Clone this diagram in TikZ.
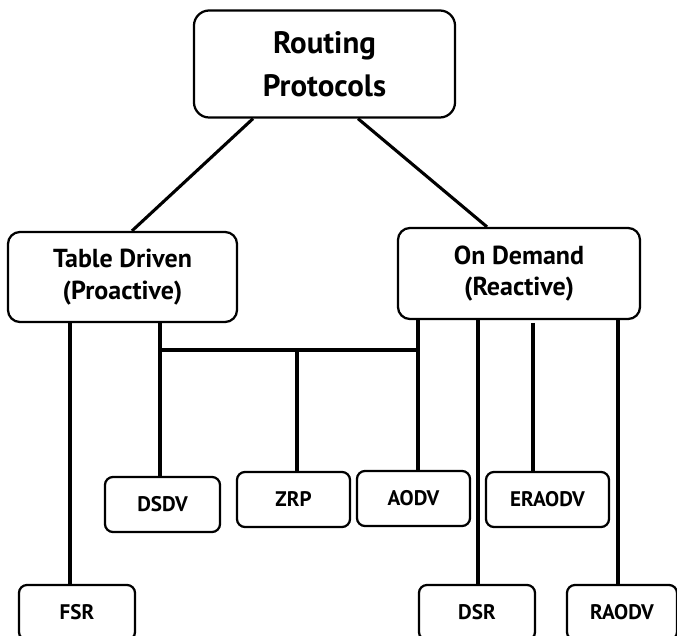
\documentclass[tikz,border=0pt]{standalone}
\usepackage{fontspec}
\setmainfont{PT Sans}
\usetikzlibrary{positioning, calc}

\begin{document}
\begin{tikzpicture}[x=0.025cm, y=-0.025cm,
  box/.style={draw, line width=1.6pt, rounded corners=0.2cm, inner sep=0pt,
    minimum height=1.375cm, align=center, font=\bfseries\fontsize{15}{18}\selectfont},
  group/.style={box, rounded corners=0.3cm, minimum height=2.25cm,
    font=\bfseries\fontsize{18.5}{22.5}\selectfont},
  link/.style={line width=2.2pt}
]
  \clip (0,0) rectangle (677,636);

  \node[group, rounded corners=0.38cm, minimum width=6.525cm, minimum height=2.675cm,
    font=\bfseries\fontsize{22}{30.5}\selectfont] (root) at (324.5,64) {Routing\\Protocols};
  \node[group, minimum width=5.725cm] (tbl) at (122.5,277) {Table Driven\\(Proactive)};
  \node[group, minimum width=6.05cm, minimum height=2.275cm] (ond) at (519,273.5) {On Demand\\(Reactive)};

  \node[box, minimum width=2.875cm] (dsdv) at (162.5,504.5) {DSDV};
  \node[box, minimum width=2.825cm] (zrp) at (293.5,499.5) {ZRP};
  \node[box, minimum width=2.825cm] (aodv) at (413.5,498.5) {AODV};
  \node[box, minimum width=3.075cm] (eraodv) at (547.5,499.5) {ERAODV};
  \node[box, minimum width=2.9cm] (fsr) at (77,612.5) {FSR};
  \node[box, minimum width=2.9cm] (dsr) at (477,612.5) {DSR};
  \node[box, minimum width=2.75cm] (raodv) at (622,612.5) {RAODV};

  \coordinate (busl) at (160,350);
  \coordinate (busm) at (297,350);
  \coordinate (busr) at (418,350);

  \draw[link] (root.south -| 253,0) -- (tbl.north -| 132,0);
  \draw[link] (root.south -| 358,0) -- (ond.north -| 487,0);

  \draw[link] (tbl.south -| 70,0) -- (fsr.north -| 70,0);
  \draw[link] (tbl.south -| busl) -- (dsdv.north -| busl);
  \draw[link] (busl) -- (busr);
  \draw[link] (busm) -- (zrp.north -| busm);
  \draw[link] (ond.south -| busr) -- (aodv.north -| busr);
  \draw[link] (ond.south -| 478,0) -- (dsr.north -| 478,0);
  \draw[link] ([yshift=-2pt]ond.south -| 533,0) -- (eraodv.north -| 533,0);
  \draw[link] (ond.south -| 618,0) -- (raodv.north -| 618,0);
\end{tikzpicture}
\end{document}
